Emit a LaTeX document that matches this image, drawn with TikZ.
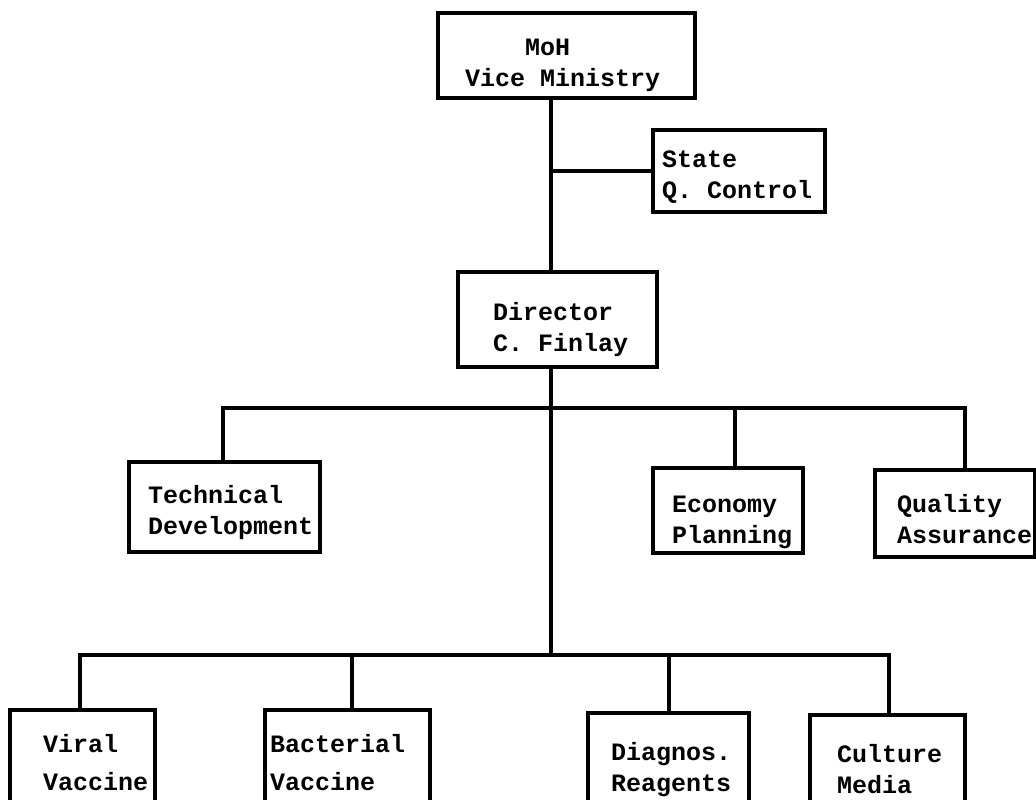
\documentclass[tikz,border=0pt]{standalone}
\usepackage{fontspec}
\setmonofont{Liberation Mono}
\begin{document}
\begin{tikzpicture}[x=0.5pt,y=-0.5pt,
  unitbox/.style={draw, line width=1.6pt, inner sep=0pt, align=left,
    font=\ttfamily\bfseries\fontsize{12.5}{15.5}\selectfont},
  link/.style={line width=1.6pt, line join=miter}]
% fixed one-column gap of the typewriter face
\newcommand\gap{\hspace*{0.6em}}
% unit box: name, left, top, right, bottom, text start, first baseline, label
\newcommand\orgbox[8]{%
  \pgfmathsetmacro\bxw{(#4-#2)*0.5}%
  \pgfmathsetmacro\bxh{(#5-#3)*0.5}%
  \pgfmathsetmacro\bxt{(#4+#2-2*#6)*0.5}%
  \pgfmathsetmacro\bxa{max(0,#7-(#3+#5)/2)}%
  \pgfmathsetmacro\bxd{max(0,(#3+#5)/2-#7)}%
  \node[unitbox, minimum width=\bxw pt, minimum height=\bxh pt,
        text width=\bxt pt, text height=\bxa pt, text depth=\bxd pt]
        (#1) at ({(#2+#4)/2},{(#3+#5)/2}) {#8};}
\useasboundingbox (0,0) rectangle (1036,799);
\clip (0,0) rectangle (1036,799);

% top of the hierarchy
\orgbox{moh}{438}{13}{695}{98}{465}{55}{\gap\gap\gap\gap MoH\\Vice\gap Ministry}
\orgbox{state}{653}{130}{825}{212}{662}{167}{State\\Q.\gap Control}
\orgbox{dir}{458}{272}{657}{367}{493}{320}{Director\\C.\gap Finlay}

% staff units
\orgbox{tech}{129}{462}{320}{552}{148}{503}{Technical\\Development}
\orgbox{econ}{653}{468}{803}{553}{672}{512}{Economy\\Planning}
\orgbox{qual}{875}{470}{1035}{557}{897}{512}{Quality\\Assurance}

% production units
\orgbox{viral}{10}{710}{155}{812}{43}{752}{Viral\\[3.5pt]Vaccine}
\orgbox{bact}{265}{710}{430}{810}{270}{752}{Bacterial\\[3.5pt]Vaccine}
\orgbox{diag}{588}{713}{749}{821}{611}{760}{Diagnos.\\Reagents}
\orgbox{cult}{810}{715}{965}{819}{837}{762}{Culture\\Media}

% spine and bus points
\coordinate (sp) at (551,0);
\coordinate (b3) at (551,655);
\coordinate (t2) at (223,408);
\coordinate (e2) at (735,408);
\coordinate (q2) at (965,408);
\coordinate (v3) at (80,655);
\coordinate (a3) at (352,655);
\coordinate (d3) at (669,655);
\coordinate (c3) at (889,655);

% connectors
\draw[link] (moh.south -| sp) -- (dir.north -| sp);
\draw[link] (state.west) -- (state.west -| sp);
\draw[link] (dir.south -| sp) -- (b3);
\draw[link] (t2 |- tech.north) -- (t2) -- (q2) -- (q2 |- qual.north);
\draw[link] (e2) -- (e2 |- econ.north);
\draw[link] (v3 |- viral.north) -- (v3) -- (c3) -- (c3 |- cult.north);
\draw[link] (a3) -- (a3 |- bact.north);
\draw[link] (d3) -- (d3 |- diag.north);
\end{tikzpicture}
\end{document}
